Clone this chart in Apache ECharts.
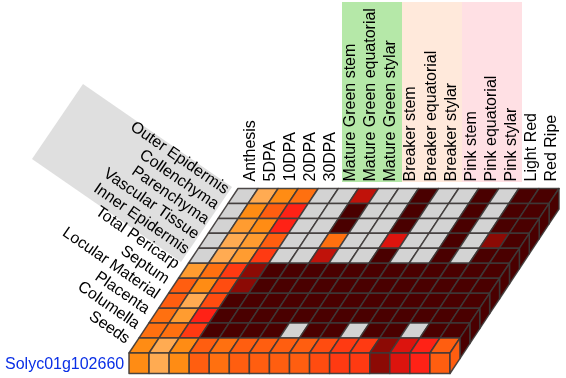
<!DOCTYPE html>
<html><head><meta charset="utf-8">
<style>html,body{margin:0;padding:0;background:#fff}#c{width:566px;height:378px}</style>
<script src="https://cdn.jsdelivr.net/npm/echarts@6/dist/echarts.min.js"></script>
</head><body><div id="c"></div>
<script>
const stages = ['Anthesis','5DPA','10DPA','20DPA','30DPA','Mature Green stem','Mature Green equatorial','Mature Green stylar','Breaker stem','Breaker equatorial','Breaker stylar','Pink stem','Pink equatorial','Pink stylar','Light Red','Red Ripe'];
const tissues = ['Outer Epidermis','Collenchyma','Parenchyma','Vascular Tissue','Inner Epidermis','Total Pericarp','Septum','Locular Material','Placenta','Columella','Seeds'];
const geneName = 'Solyc01g102660';
// level 0 = no data; 1 (palest) ... 12 (darkest)
const palette = ['#d3d3d3','#ffab52','#ff9c30','#ff8c14','#ff7010','#ff5e10','#ff4c10','#ff3a12','#ff2216','#dc140e','#c0120a','#8c0a05','#4a0000'];
const outerEpidermis = [0,1,3,4,0,0,10,0,0,12,0,0,12,0,12,12];
const collenchyma    = [0,3,5,8,0,0,12,0,0,12,0,0,12,0,12,12];
const parenchyma     = [0,2,3,8,0,0,12,0,0,12,0,0,12,0,12,12];
const vascularTissue = [0,1,2,5,0,0,4,0,0,9,0,0,12,0,11,12];
const innerEpidermis = [0,1,2,7,0,0,10,0,0,12,0,0,12,0,12,12];
const totalPericarp  = [2,4,7,11,12,12,12,12,12,12,12,12,12,12,12,12];
const septum         = [5,3,6,11,12,12,12,12,12,12,12,12,12,12,12,12];
const locularMaterial= [5,1,6,12,12,12,12,12,12,12,12,12,12,12,12,12];
const placenta       = [4,2,8,12,12,12,12,12,12,12,12,12,12,12,12,12];
const columella      = [4,4,7,12,12,12,12,0,12,12,0,12,12,0,12,12];
const seeds          = [3,1,3,5,4,5,5,5,5,6,7,7,11,9,8,5];
const rows = [outerEpidermis,collenchyma,parenchyma,vascularTissue,innerEpidermis,totalPericarp,septum,locularMaterial,placenta,columella,seeds];

const cells = [];
rows.forEach((vals,r)=>vals.forEach((v,c)=>cells.push([c,r,v])));
const lastR = rows.length-1, lastC = stages.length-1;
const GRID = {left:240.5, top:188.5, width:321, height:164.5};
const shear = 109/164.5, depth = 20.5, labelShift = 2.5;
const lineColor = 'rgba(62,58,56,0.92)';
const sk = p => [p[0]-labelShift-(p[1]-GRID.top)*shear, p[1]];
function corners(api){
  const ctr = api.coord([api.value(0),api.value(1)]), s = api.size([1,1]);
  const x0=ctr[0]-s[0]/2,x1=ctr[0]+s[0]/2,y0=ctr[1]-s[1]/2,y1=ctr[1]+s[1]/2;
  return {a:sk([x0,y0]),b:sk([x1,y0]),c:sk([x1,y1]),d:sk([x0,y1])};
}
const poly = (pts,api)=>({type:'polygon',shape:{points:pts},style:{fill:palette[api.value(2)],stroke:lineColor,lineWidth:1.5,lineJoin:'round'}});
const down = p=>[p[0],p[1]+depth];

const chart = echarts.init(document.getElementById('c'),null,{renderer:'canvas'});
chart.setOption({
  animation:false,
  backgroundColor:'#fff',
  grid:GRID,
  xAxis:{type:'category',position:'top',data:stages,z:5,
    axisLine:{show:false},axisTick:{show:false},splitLine:{show:false},
    axisLabel:{interval:0,rotate:-90,margin:7,fontSize:16,fontFamily:'Liberation Sans',color:'#000'}},
  yAxis:{type:'category',inverse:true,data:tissues,show:false},
  graphic:{elements:[
    {type:'polygon',z:-10,shape:{points:[[83,84],[232,187],[181,262],[32,159]]},style:{fill:'#dfdfdf'}},
    {type:'rect',z:-10,shape:{x:342,y:2,width:60,height:180},style:{fill:'#b5e8a8'}},
    {type:'rect',z:-10,shape:{x:402,y:2,width:60,height:180},style:{fill:'#ffe9db'}},
    {type:'rect',z:-10,shape:{x:462,y:2,width:60,height:180},style:{fill:'#ffe0e4'}},
    {type:'text',z:5,x:5,y:365,style:{text:geneName,font:'16px "Liberation Sans"',fill:'#0a2fe6',textVerticalAlign:'middle'}}
  ]},
  series:[
    {type:'custom',z:2,coordinateSystem:'cartesian2d',encode:{x:0,y:1},data:cells,clip:false,
     renderItem:(p,api)=>{const q=corners(api);return poly([q.a,q.b,q.c,q.d],api);}},
    {type:'custom',z:3,coordinateSystem:'cartesian2d',encode:{x:0,y:1},data:cells.filter(d=>d[1]===lastR),clip:false,
     renderItem:(p,api)=>{const q=corners(api);return poly([q.d,q.c,down(q.c),down(q.d)],api);}},
    {type:'custom',z:3,coordinateSystem:'cartesian2d',encode:{x:0,y:1},data:cells.filter(d=>d[0]===lastC),clip:false,
     renderItem:(p,api)=>{const q=corners(api);return poly([q.b,q.c,down(q.c),down(q.b)],api);}},
    {type:'custom',z:4,coordinateSystem:'cartesian2d',encode:{x:0,y:1},data:tissues.map((t,i)=>[0,i,t]),clip:false,silent:true,
     renderItem:(p,api)=>{
       const q=corners(api);
       return {type:'text',x:(q.a[0]+q.d[0])/2-6,y:(q.a[1]+q.d[1])/2-5,rotation:-34.6*Math.PI/180,
         style:{text:tissues[api.value(1)],font:'16px "Liberation Sans"',fill:'#000',textAlign:'right',textVerticalAlign:'middle'}};
     }}
  ]
});
</script></body></html>
